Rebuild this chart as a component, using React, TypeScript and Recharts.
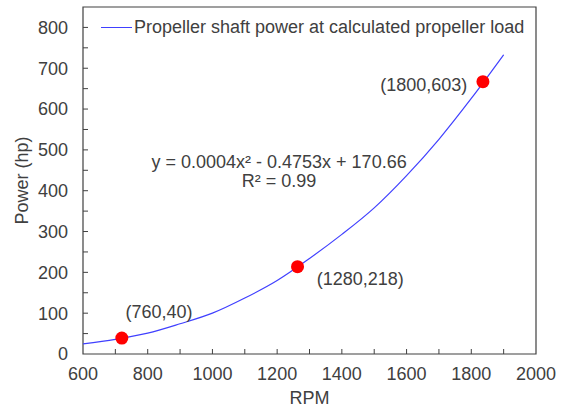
import React from 'react';
import { ComposedChart, Line, Scatter, XAxis, YAxis, ReferenceArea, ReferenceDot, Legend } from 'recharts';

// fitted curve, every 100 rpm
const curveRpm = [600, 700, 800, 900, 1000, 1100, 1200, 1300, 1400, 1500, 1600, 1700, 1800, 1900];
const curvePower = [25, 36, 51, 74, 100, 137, 180, 234, 293, 358, 437, 526, 626, 733];

// measured points (red dots)
const pointRpm = [720, 1263, 1836];
const pointPower = [39, 214, 667];

// text labels, placed in data units
const labelText = ['(760,40)', '(1280,218)', '(1800,603)', 'y = 0.0004x² - 0.4753x + 170.66', 'R² = 0.99'];
const labelRpm = [835, 1457, 1653, 1206, 1206];
const labelPower = [104, 184, 661, 472, 425];

// labelled ticks and the inside tick marks
const xTicks = [600, 800, 1000, 1200, 1400, 1600, 1800, 2000];
const xMinorTicks = [600, 700, 800, 900, 1000, 1100, 1200, 1300, 1400, 1500, 1600, 1700, 1800, 1900, 2000];
const yTicks = [0, 100, 200, 300, 400, 500, 600, 700, 800];
const yMinorTicks = [0, 50, 100, 150, 200, 250, 300, 350, 400, 450, 500, 550, 600, 650, 700, 750, 800];

const seriesName = 'Propeller shaft power at calculated propeller load';

const FONT = '"Liberation Sans", Arial, sans-serif';
const TEXT = '#404040';
const BLUE = '#4040ff';
const X_GAP = 13;
const Y_GAP = 15;
const MARK = 5;

const curveData = curveRpm.map((r, i) => ({ rpm: r, power: curvePower[i] }));
const pointData = pointRpm.map((r, i) => ({ rpm: r, power: pointPower[i] }));

// tick mark drawn inward, label only on the major values
const XTick = ({ x, y, payload }: any) => {
  const axisY = y - X_GAP;
  const v = payload.value;
  return (
    <g>
      {v !== 600 && v !== 2000 && <line x1={x} x2={x} y1={axisY} y2={axisY - MARK} stroke={TEXT} />}
      {xTicks.includes(v) && (
        <text x={x} y={y} dy="0.71em" textAnchor="middle" fill={TEXT} fontSize={18} fontFamily={FONT}>
          {v}
        </text>
      )}
    </g>
  );
};

const YTick = ({ x, y, payload }: any) => {
  const axisX = x + Y_GAP;
  const v = payload.value;
  return (
    <g>
      {v !== 0 && <line x1={axisX} x2={axisX + MARK} y1={y} y2={y} stroke={TEXT} />}
      {yTicks.includes(v) && (
        <text x={x} y={y} dy="0.355em" textAnchor="end" fill={TEXT} fontSize={18} fontFamily={FONT}>
          {v}
        </text>
      )}
    </g>
  );
};

const LegendContent = () => (
  <div style={{ display: 'flex', alignItems: 'center', fontFamily: FONT, fontSize: 18, color: TEXT, whiteSpace: 'nowrap' }}>
    <span style={{ display: 'inline-block', width: 31, borderTop: `1px solid ${BLUE}`, marginRight: 2 }} />
    <span>{seriesName}</span>
  </div>
);

const App: React.FC = () => {
  return (
    <div style={{ position: 'absolute', left: 0, top: 0, width: 564, height: 412, background: '#fff', fontFamily: FONT }}>
      <ComposedChart width={564} height={412} margin={{ top: 7, right: 28, bottom: 0, left: 0 }}>
        <XAxis
          dataKey="rpm"
          type="number"
          domain={[600, 2000]}
          ticks={xMinorTicks}
          interval={0}
          allowDataOverflow
          height={58}
          tickLine={false}
          axisLine={false}
          tickSize={0}
          tickMargin={X_GAP}
          tick={<XTick />}
          label={{ value: 'RPM', position: 'insideBottom', offset: 8, fill: TEXT, fontSize: 18, fontFamily: FONT }}
        />
        <YAxis
          type="number"
          domain={[0, 850]}
          ticks={yMinorTicks}
          interval={0}
          allowDataOverflow
          width={83}
          tickLine={false}
          axisLine={false}
          tickSize={0}
          tickMargin={Y_GAP}
          tick={<YTick />}
          label={{ value: 'Power (hp)', angle: -90, position: 'insideLeft', offset: 22, style: { textAnchor: 'middle' }, fill: TEXT, fontSize: 18, fontFamily: FONT }}
        />
        <ReferenceArea x1={600} x2={2000} y1={0} y2={850} fill="none" stroke={TEXT} strokeWidth={1.2} />
        <Line
          data={curveData}
          dataKey="power"
          name={seriesName}
          type="monotone"
          stroke={BLUE}
          strokeWidth={1.2}
          dot={false}
          activeDot={false}
          isAnimationActive={false}
        />
        <Scatter
          data={pointData}
          dataKey="power"
          fill="#ff0000"
          legendType="none"
          isAnimationActive={false}
          shape={(p: any) => <circle cx={p.cx} cy={p.cy} r={6.5} fill="#ff0000" />}
        />
        {labelText.map((t, i) => (
          <ReferenceDot
            key={t}
            x={labelRpm[i]}
            y={labelPower[i]}
            r={0}
            fill="none"
            stroke="none"
            label={{ value: t, position: 'center', fill: TEXT, fontSize: 18, fontFamily: FONT }}
          />
        ))}
        <Legend
          layout="vertical"
          align="center"
          verticalAlign="middle"
          content={<LegendContent />}
          wrapperStyle={{ position: 'absolute', left: 101, top: 17, width: 'auto' }}
        />
      </ComposedChart>
    </div>
  );
};

export default App;
